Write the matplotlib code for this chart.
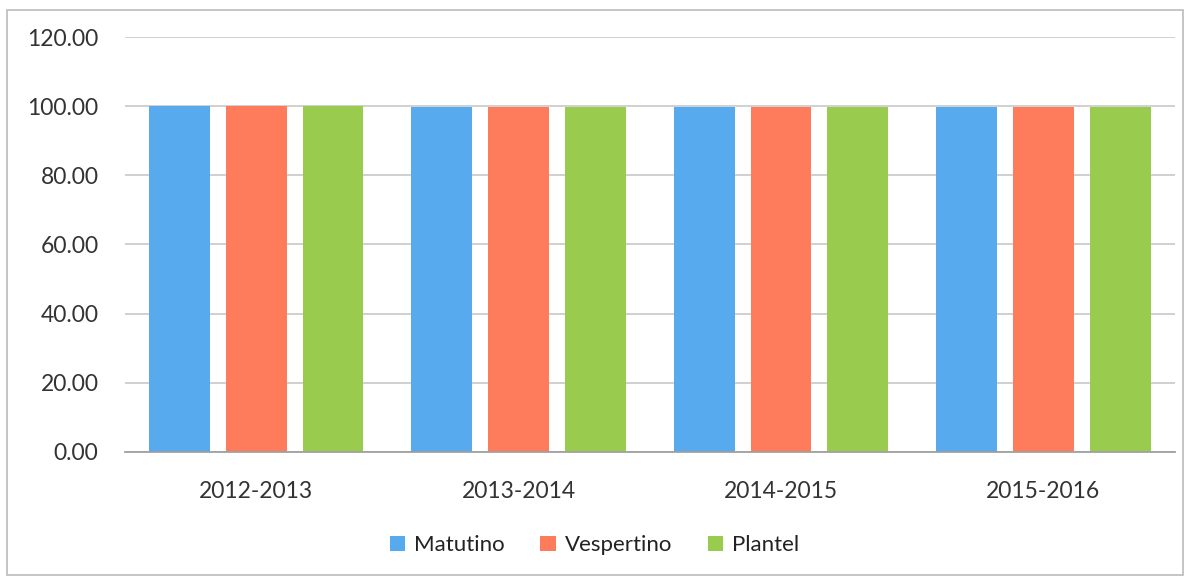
import numpy as np
import matplotlib
matplotlib.use("Agg")
import matplotlib.pyplot as plt
from matplotlib.patches import Rectangle

# data
years = ["2012-2013", "2013-2014", "2014-2015", "2015-2016"]
matutino = [100.0, 99.9, 99.8, 99.8]
vespertino = [100.0, 99.9, 99.8, 99.7]
plantel = [100.0, 99.9, 99.8, 99.7]

series = ["Matutino", "Vespertino", "Plantel"]
colors = ["#58aaee", "#fe7c5c", "#98cb4e"]

plt.rcParams["font.family"] = ["Lato", "DejaVu Sans"]

fig = plt.figure(figsize=(11.89, 5.80), dpi=100)
ax = fig.add_axes([0.105, 0.221, 0.883, 0.715])

x = np.arange(len(years))
width = 0.232
step = 0.293
for i, (name, vals) in enumerate(zip(series, [matutino, vespertino, plantel])):
    ax.bar(x + (i - 1) * step, vals, width, color=colors[i], label=name, zorder=2)

ax.set_xlim(-0.5, len(years) - 0.5)
ax.set_ylim(0, 120)
ax.set_yticks(np.arange(0, 121, 20))
ax.set_yticklabels([f"{v:.2f}" for v in np.arange(0, 121, 20)], fontsize=16.5, color="#333333")
ax.set_xticks(x)
ax.set_xticklabels(years, fontsize=16.5, color="#333333")
ax.tick_params(axis="both", length=0)
ax.tick_params(axis="x", pad=21)
ax.tick_params(axis="y", pad=19)
ax.yaxis.grid(True, color="#c8c8c8", linewidth=1.2, zorder=0)
ax.set_axisbelow(True)
for s in ["top", "right", "left"]:
    ax.spines[s].set_visible(False)
ax.spines["bottom"].set_color("#a0a0a0")
ax.spines["bottom"].set_linewidth(1.3)

fig.legend(loc="center", bbox_to_anchor=(0.5, 0.06), ncol=3, frameon=False,
           fontsize=16, handlelength=0.7, handleheight=0.7, handletextpad=0.4,
           columnspacing=1.6, labelcolor="#222222")

# outer chart border
fig.patches.append(Rectangle((0.006, 0.008), 0.989, 0.975, transform=fig.transFigure,
                             fill=False, edgecolor="#bbbbbb", linewidth=1.2))

fig.savefig("out.png", dpi=100)
